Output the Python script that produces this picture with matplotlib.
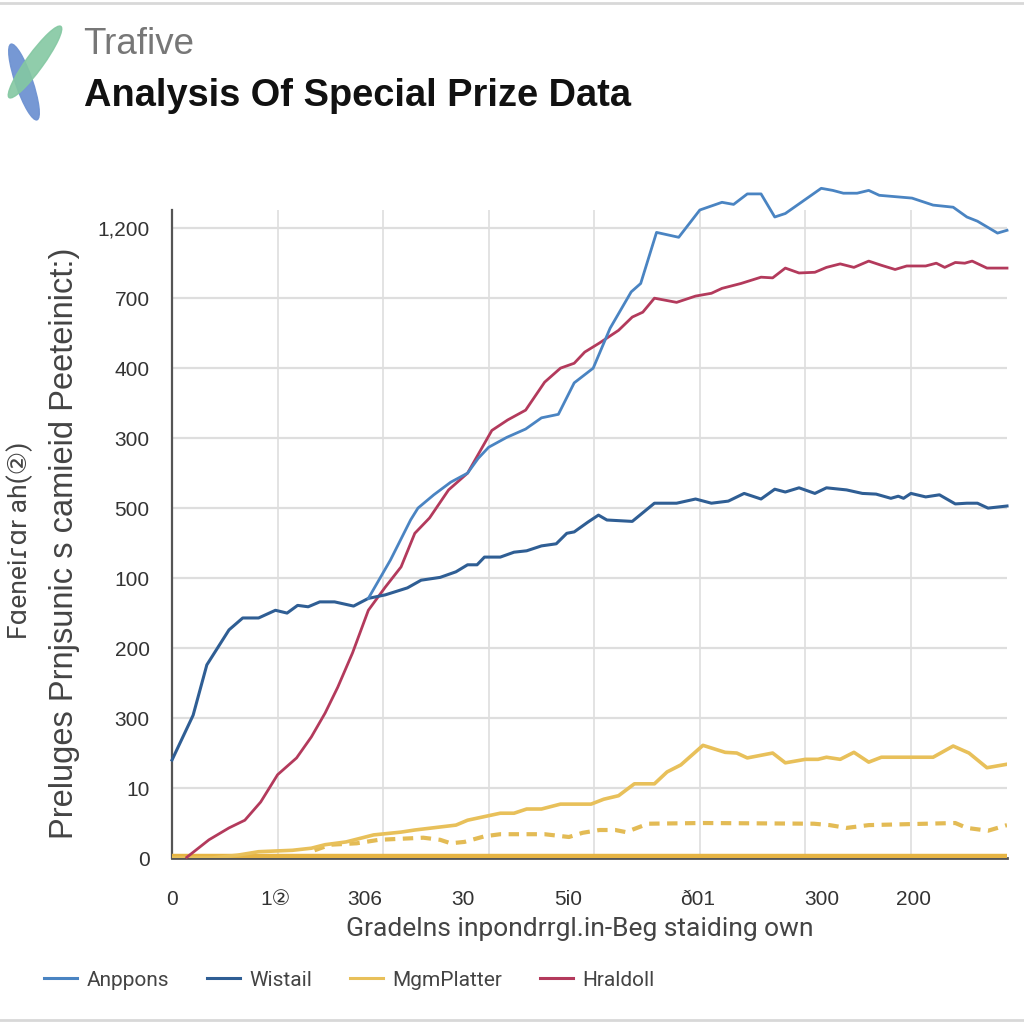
import matplotlib
matplotlib.use("Agg")
import matplotlib.pyplot as plt
from matplotlib.patches import Ellipse
from matplotlib.lines import Line2D

# ---------------- data (x / y in chart units) ----------------
anppons_x = [1.86, 2.07, 2.26, 2.33, 2.48, 2.64, 2.80, 2.90, 3.00, 3.17, 3.35, 3.50, 3.66, 3.81, 3.99,
             4.15, 4.35, 4.44, 4.59, 4.80, 5.00, 5.21, 5.32, 5.45, 5.58, 5.71, 5.81, 6.15, 6.26, 6.36,
             6.49, 6.60, 6.70, 7.01, 7.21, 7.40, 7.53, 7.63, 7.82, 7.91]
anppons_y = [3.71, 4.26, 4.83, 5.00, 5.19, 5.37, 5.50, 5.71, 5.87, 6.01, 6.13, 6.29, 6.34, 6.79, 7.00,
             7.57, 8.09, 8.21, 8.94, 8.87, 9.26, 9.37, 9.34, 9.49, 9.49, 9.16, 9.21, 9.57, 9.54, 9.50,
             9.50, 9.54, 9.47, 9.43, 9.33, 9.30, 9.16, 9.10, 8.93, 8.97]

wistail_x = [0.00, 0.20, 0.33, 0.54, 0.67, 0.82, 0.98, 1.09, 1.19, 1.29, 1.40, 1.54, 1.72, 1.86, 2.02,
             2.23, 2.36, 2.54, 2.69, 2.80, 2.89, 2.96, 3.11, 3.24, 3.36, 3.50, 3.64, 3.74, 3.81, 3.94,
             4.04, 4.12, 4.36, 4.57, 4.78, 4.96, 5.11, 5.27, 5.42, 5.58, 5.71, 5.81, 5.94, 6.09, 6.20,
             6.39, 6.54, 6.67, 6.81, 6.88, 6.93, 7.00, 7.14, 7.27, 7.42, 7.53, 7.63, 7.73, 7.91]
wistail_y = [1.40, 2.04, 2.76, 3.26, 3.43, 3.43, 3.54, 3.50, 3.61, 3.59, 3.66, 3.66, 3.60, 3.71, 3.76,
             3.86, 3.97, 4.01, 4.09, 4.19, 4.19, 4.30, 4.30, 4.37, 4.39, 4.46, 4.49, 4.64, 4.66, 4.80,
             4.90, 4.83, 4.81, 5.07, 5.07, 5.13, 5.07, 5.10, 5.21, 5.13, 5.27, 5.23, 5.29, 5.21, 5.29,
             5.26, 5.21, 5.20, 5.14, 5.17, 5.14, 5.21, 5.16, 5.19, 5.06, 5.07, 5.07, 5.00, 5.03]

mgm_x = [0.00, 0.38, 0.62, 0.82, 1.14, 1.32, 1.45, 1.65, 1.91, 2.17, 2.30, 2.69, 2.80, 3.11, 3.24,
         3.36, 3.50, 3.68, 3.97, 4.09, 4.23, 4.38, 4.57, 4.69, 4.82, 5.03, 5.24, 5.35, 5.45, 5.69,
         5.81, 6.00, 6.12, 6.20, 6.33, 6.46, 6.60, 6.72, 7.21, 7.40, 7.55, 7.72, 7.91]
mgm_y = [0.00, 0.00, 0.04, 0.09, 0.11, 0.14, 0.19, 0.23, 0.33, 0.37, 0.40, 0.47, 0.54, 0.64, 0.64,
         0.70, 0.70, 0.77, 0.77, 0.84, 0.89, 1.06, 1.06, 1.23, 1.33, 1.61, 1.51, 1.50, 1.43, 1.50,
         1.36, 1.41, 1.41, 1.44, 1.41, 1.51, 1.37, 1.44, 1.44, 1.60, 1.50, 1.29, 1.34]

mgm_dash_x = [1.35, 1.50, 1.75, 1.96, 2.38, 2.54, 2.64, 2.77, 2.96, 3.11, 3.53, 3.76, 3.89, 4.05, 4.20,
              4.30, 4.51, 5.03, 6.08, 6.23, 6.39, 6.60, 7.42, 7.53, 7.73, 7.91]
mgm_dash_y = [0.11, 0.19, 0.21, 0.26, 0.29, 0.26, 0.21, 0.23, 0.31, 0.34, 0.34, 0.30, 0.36, 0.40, 0.40,
              0.37, 0.49, 0.50, 0.49, 0.47, 0.43, 0.47, 0.50, 0.43, 0.39, 0.47]

base_x = [0.00, 7.91]
base_y = [0.03, 0.03]

hraldoll_x = [0.14, 0.35, 0.54, 0.69, 0.84, 1.00, 1.18, 1.32, 1.45, 1.57, 1.71, 1.86, 2.02, 2.17, 2.30,
              2.44, 2.62, 2.80, 3.03, 3.18, 3.35, 3.53, 3.68, 3.81, 3.91, 4.05, 4.23, 4.36, 4.46, 4.57,
              4.78, 4.96, 5.11, 5.21, 5.39, 5.58, 5.69, 5.81, 5.94, 6.09, 6.20, 6.33, 6.46, 6.60, 6.72,
              6.85, 6.96, 7.14, 7.24, 7.32, 7.42, 7.51, 7.58, 7.72, 7.91]
hraldoll_y = [0.01, 0.26, 0.43, 0.54, 0.80, 1.19, 1.43, 1.73, 2.07, 2.44, 2.93, 3.54, 3.87, 4.16, 4.64,
              4.86, 5.26, 5.50, 6.11, 6.26, 6.40, 6.80, 7.00, 7.07, 7.23, 7.36, 7.54, 7.73, 7.80, 8.00,
              7.94, 8.03, 8.07, 8.14, 8.21, 8.30, 8.29, 8.43, 8.36, 8.37, 8.44, 8.49, 8.44, 8.53, 8.47,
              8.41, 8.46, 8.46, 8.50, 8.44, 8.51, 8.50, 8.53, 8.43, 8.43]

y_tick_labels = ['0', '10', '300', '200', '100', '500', '300', '400', '700', '1,200']
x_tick_pos = [0.0, 0.98, 1.83, 2.76, 3.75, 4.98, 6.16, 7.02]
x_tick_labels = ['0', '1②', '306', '30', '5i0', 'ð01', '300', '200']
x_grid_pos = [1, 2, 3, 4, 5, 6, 7]

legend_names = ['Anppons', 'Wistail', 'MgmPlatter', 'Hraldoll']
colors = ['#4a84c2', '#2f5e94', '#e8c05a', '#b33a5c']

# ---------------- figure ----------------
fig = plt.figure(figsize=(10.24, 10.24), dpi=100)
fig.patch.set_facecolor('white')

ax = fig.add_axes([172/1024, 1-858/1024, (1007-172)/1024, (858-210)/1024])
ax.set_xlim(0, 7.91)
ax.set_ylim(0, 9.26)

ax.set_yticks(range(len(y_tick_labels)))
ax.set_yticklabels(y_tick_labels, fontsize=15, color='#333333', family=['Liberation Sans', 'DejaVu Sans'])
ax.set_xticks(x_tick_pos)
ax.set_xticklabels(x_tick_labels, fontsize=15, color='#333333', family=['Liberation Sans', 'DejaVu Sans'])
ax.set_xticks(x_grid_pos, minor=True)
ax.tick_params(axis='both', which='both', length=0)
ax.tick_params(axis='y', pad=16)
ax.tick_params(axis='x', pad=23)
ax.grid(False)
ax.yaxis.grid(True, color='#dedede', linewidth=1.6)
ax.xaxis.grid(True, which='minor', color='#dedede', linewidth=1.2)
ax.set_axisbelow(True)

for s in ['top', 'right']:
    ax.spines[s].set_visible(False)
ax.spines['left'].set_color('#555555')
ax.spines['left'].set_linewidth(1.6)
ax.spines['bottom'].set_color('#555555')
ax.spines['bottom'].set_linewidth(2.0)

ax.plot(base_x, base_y, color='#e6b443', lw=3.2, solid_capstyle='butt', zorder=3)
ax.plot(mgm_dash_x, mgm_dash_y, color='#e3bb55', lw=3.0, ls=(0, (2.5, 1.8)), zorder=3)
ax.plot(mgm_x, mgm_y, color=colors[2], lw=2.6, label=legend_names[2], zorder=4)
ax.plot(hraldoll_x, hraldoll_y, color=colors[3], lw=2.0, label=legend_names[3], zorder=5, clip_on=False)
ax.plot(wistail_x, wistail_y, color=colors[1], lw=2.2, label=legend_names[1], zorder=6, clip_on=False)
ax.plot(anppons_x, anppons_y, color=colors[0], lw=2.0, label=legend_names[0], zorder=6, clip_on=False)

ax.set_xlabel('Gradelns inpondrrgl.in-Beg staiding own', fontsize=19, color='#444444',
              family='Roboto', labelpad=6)
ax.xaxis.label.set_x((580 - 172) / (1007 - 172))

# y labels (two rotated lines)
fig.text(20/1024, 1-540/1024, 'Fɑeneiɾɑr ah(②)', rotation=90, fontsize=19, color='#444444',
         family=['Roboto', 'DejaVu Sans'], ha='center', va='center')
fig.text(65/1024, 1-543/1024, 'Preluges Prnjsunic s camieid Peeteinict:)', rotation=90, fontsize=23.5,
         color='#444444', family=['Liberation Sans', 'DejaVu Sans'], ha='center', va='center')

# legend
handles = [Line2D([0], [0], color=c, lw=2.2) for c in colors]
fig.legend(handles, legend_names, loc='center left', bbox_to_anchor=(44/1024, 1-980/1024),
           ncol=4, frameon=False, handlelength=1.6, handletextpad=0.45,
           columnspacing=1.8, borderpad=0, borderaxespad=0,
           prop={'family': 'Roboto', 'size': 15}, labelcolor='#444444')

# titles
fig.text(83/1024, 1-45/1024, 'Trafive', fontsize=26.5, color='#777777', family='Liberation Sans',
         ha='left', va='center')
fig.text(84/1024, 1-96/1024, 'Analysis Of Special Prize Data', fontsize=27.4, color='#111111',
         family='Liberation Sans', weight='bold', ha='left', va='center')

# logo
lax = fig.add_axes([0, 1-130/1024, 75/1024, 110/1024])
lax.set_xlim(0, 75)
lax.set_ylim(0, 110)
lax.axis('off')
lax.add_patch(Ellipse((24, 48), 80, 17, angle=-71, color='#6f93d2', alpha=0.95, clip_on=False))
lax.add_patch(Ellipse((35, 68), 88, 17, angle=54, color='#84c8a2', alpha=0.9, clip_on=False))

# thin frame lines top and bottom
fig.add_artist(Line2D([0, 1], [1-3/1024, 1-3/1024], color='#d8d8d8', lw=2, transform=fig.transFigure))
fig.add_artist(Line2D([0, 1], [1-1020/1024, 1-1020/1024], color='#d8d8d8', lw=2, transform=fig.transFigure))

fig.savefig('out.png', dpi=100, facecolor='white')
